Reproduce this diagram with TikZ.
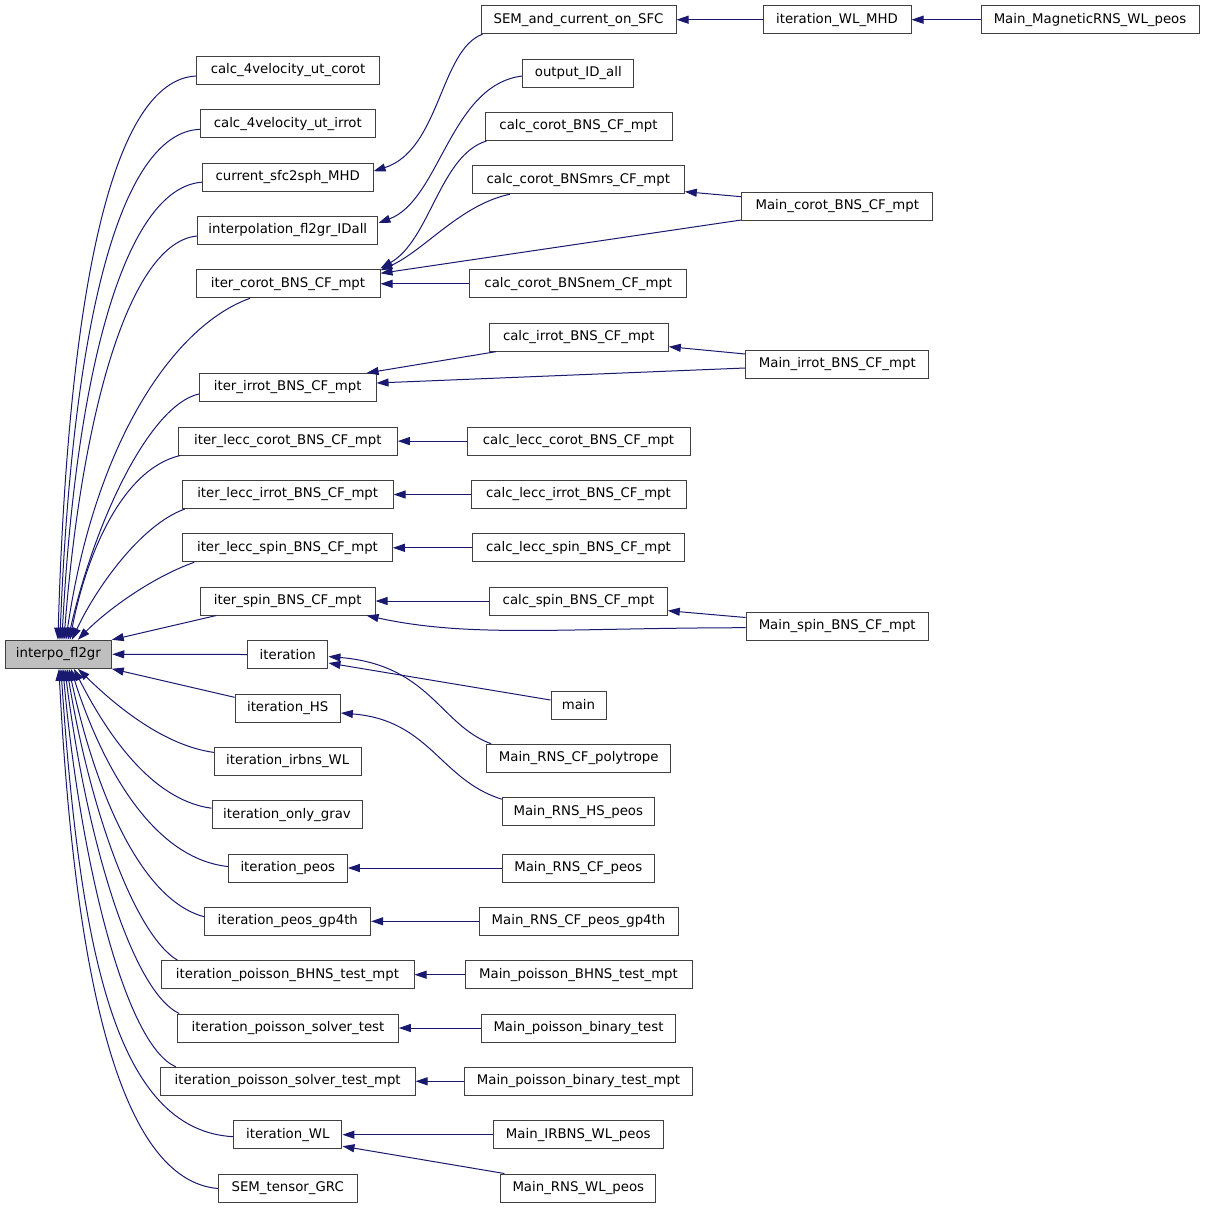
\documentclass[tikz,border=0pt]{standalone}
\usepackage{fontspec}
\setmainfont{DejaVu Sans}
\usetikzlibrary{arrows.meta}
\definecolor{edgeblue}{HTML}{191970}
\definecolor{boxborder}{HTML}{404040}
\definecolor{hilite}{HTML}{BFBFBF}
\begin{document}
\begin{tikzpicture}[x=1pt,y=-1pt,
  box/.style={draw=boxborder, line width=1pt, fill=white, inner sep=0pt,
    minimum height=28pt, font=\fontsize{13.3}{16}\selectfont},
  rootbox/.style={box, fill=hilite},
  edge/.style={draw=edgeblue, line width=1pt, arrows={Triangle[length=12pt,width=8pt]-}}]
\fill[white] (0,0) rectangle (1205,1208);
\useasboundingbox (0,0) rectangle (1205,1208);

% root
\node[rootbox, minimum width=106.7pt] (ifl) at (58.4,654.3) {interpo\_fl2gr};

% column 2
\node[box, minimum width=182.6pt] (c4c) at (288,70.5) {calc\_4velocity\_ut\_corot};
\node[box, minimum width=175pt] (c4i) at (287.8,123.8) {calc\_4velocity\_ut\_irrot};
\node[box, minimum width=170.7pt] (cur) at (287.7,177.2) {current\_sfc2sph\_MHD};
\node[box, minimum width=180.3pt] (ida) at (287.8,230.5) {interpolation\_fl2gr\_IDall};
\node[box, minimum width=184pt] (ico) at (288,283.8) {iter\_corot\_BNS\_CF\_mpt};
\node[box, minimum width=176.7pt] (iir) at (287.7,387.5) {iter\_irrot\_BNS\_CF\_mpt};
\node[box, minimum width=219pt] (ilc) at (287.8,441.1) {iter\_lecc\_corot\_BNS\_CF\_mpt};
\node[box, minimum width=210.7pt] (ili) at (287.7,494.5) {iter\_lecc\_irrot\_BNS\_CF\_mpt};
\node[box, minimum width=209.6pt] (ils) at (287.5,547.8) {iter\_lecc\_spin\_BNS\_CF\_mpt};
\node[box, minimum width=174.7pt] (isp) at (287.7,601) {iter\_spin\_BNS\_CF\_mpt};
\node[box, minimum width=80.3pt] (itr) at (287.8,654.5) {iteration};
\node[box, minimum width=105.3pt] (ihs) at (287.7,708) {iteration\_HS};
\node[box, minimum width=146.7pt] (irb) at (287.7,761.4) {iteration\_irbns\_WL};
\node[box, minimum width=150pt] (iog) at (287,814.7) {iteration\_only\_grav};
\node[box, minimum width=119pt] (ipe) at (287.8,868) {iteration\_peos};
\node[box, minimum width=165.7pt] (ipg) at (287.8,921.3) {iteration\_peos\_gp4th};
\node[box, minimum width=253pt] (ibh) at (287.5,974.7) {iteration\_poisson\_BHNS\_test\_mpt};
\node[box, minimum width=220.6pt] (ist) at (288,1028) {iteration\_poisson\_solver\_test};
\node[box, minimum width=254.7pt] (ism) at (287.7,1081.3) {iteration\_poisson\_solver\_test\_mpt};
\node[box, minimum width=108.3pt] (iwl) at (287.8,1134.7) {iteration\_WL};
\node[box, minimum width=138.7pt] (sem) at (287.7,1188) {SEM\_tensor\_GRC};

% column 3
\node[box, minimum width=195pt] (ssf) at (578.5,19.7) {SEM\_and\_current\_on\_SFC};
\node[box, minimum width=111.3pt] (oid) at (578.3,73.3) {output\_ID\_all};
\node[box, minimum width=187pt] (ccb) at (578.5,126.5) {calc\_corot\_BNS\_CF\_mpt};
\node[box, minimum width=212pt] (ccm) at (578.3,179.7) {calc\_corot\_BNSmrs\_CF\_mpt};
\node[box, minimum width=217.3pt] (ccn) at (578.3,283.8) {calc\_corot\_BNSnem\_CF\_mpt};
\node[box, minimum width=179pt] (cir) at (578.8,337.2) {calc\_irrot\_BNS\_CF\_mpt};
\node[box, minimum width=223pt] (clc) at (578.5,441.1) {calc\_lecc\_corot\_BNS\_CF\_mpt};
\node[box, minimum width=215pt] (cli) at (578.5,494.5) {calc\_lecc\_irrot\_BNS\_CF\_mpt};
\node[box, minimum width=212.4pt] (cls) at (578.5,547.8) {calc\_lecc\_spin\_BNS\_CF\_mpt};
\node[box, minimum width=177.6pt] (csp) at (578.5,601) {calc\_spin\_BNS\_CF\_mpt};
\node[box, minimum width=55pt] (mai) at (578.5,705) {main};
\node[box, minimum width=184pt] (mrp) at (578.7,758.3) {Main\_RNS\_CF\_polytrope};
\node[box, minimum width=152pt] (mrh) at (578.3,811.7) {Main\_RNS\_HS\_peos};
\node[box, minimum width=152pt] (mrc) at (578.3,868) {Main\_RNS\_CF\_peos};
\node[box, minimum width=199pt] (mrg) at (578.5,921.3) {Main\_RNS\_CF\_peos\_gp4th};
\node[box, minimum width=227pt] (mpb) at (578.5,974.7) {Main\_poisson\_BHNS\_test\_mpt};
\node[box, minimum width=193.6pt] (mbt) at (578.5,1028) {Main\_poisson\_binary\_test};
\node[box, minimum width=228.4pt] (mbm) at (578.5,1081.3) {Main\_poisson\_binary\_test\_mpt};
\node[box, minimum width=170pt] (mir) at (578.3,1134.7) {Main\_IRBNS\_WL\_peos};
\node[box, minimum width=154.7pt] (mrw) at (578.3,1188) {Main\_RNS\_WL\_peos};

% column 4
\node[box, minimum width=148pt] (iwm) at (837,19.7) {iteration\_WL\_MHD};
\node[box, minimum width=191.3pt] (mco) at (837.3,206.5) {Main\_corot\_BNS\_CF\_mpt};
\node[box, minimum width=183.3pt] (mia) at (837.3,364) {Main\_irrot\_BNS\_CF\_mpt};
\node[box, minimum width=182.3pt] (msp) at (837.2,626.5) {Main\_spin\_BNS\_CF\_mpt};

% column 5
\node[box, minimum width=218pt] (mmg) at (1090,19.7) {Main\_MagneticRNS\_WL\_peos};

% ---- edges into interpo_fl2gr (upper)
\draw[edge] ([xshift=-0.5pt]ifl.north) .. controls (68,300) and (110,80) .. ([yshift=-5.5pt]c4c.west);
\draw[edge] ([xshift=1.5pt]ifl.north) .. controls (72,330) and (118,133) .. ([yshift=-5.5pt]c4i.west);
\draw[edge] ([xshift=3.5pt]ifl.north) .. controls (76,370) and (125,188) .. ([yshift=-5pt]cur.west);
\draw[edge] ([xshift=5.5pt]ifl.north) .. controls (82,410) and (130,242) .. ([yshift=-5.5pt]ida.west);
\draw[edge] ([xshift=7.5pt]ifl.north) .. controls (95,440) and (175,325) .. ([xshift=-38pt]ico.south);
\draw[edge] ([xshift=9.5pt]ifl.north) .. controls (95,520) and (150,405) .. ([yshift=-6.5pt]iir.west);
\draw[edge] ([xshift=11.5pt]ifl.north) .. controls (85,560) and (120,470) .. ([xshift=2pt]ilc.south west);
\draw[edge] ([xshift=13.5pt]ifl.north) .. controls (95,590) and (140,525) .. ([xshift=3pt]ili.south west);
\draw[edge] ([xshift=19.5pt]ifl.north) .. controls (105,612) and (150,578) .. ([xshift=12pt]ils.south west);
\draw[edge] ([xshift=-0.5pt]ifl.north east) -- ([xshift=16.5pt]isp.south west);
\draw[edge] (ifl.east) -- (itr.west);
% ---- edges into interpo_fl2gr (lower)
\draw[edge] ([xshift=-0.5pt]ifl.south east) -- ([yshift=10.7pt]ihs.west);
\draw[edge] ([xshift=19.5pt]ifl.south) .. controls (110,700) and (160,745) .. ([yshift=9pt]irb.west);
\draw[edge] ([xshift=15.5pt]ifl.south) .. controls (105,730) and (150,800) .. ([yshift=6.5pt]iog.west);
\draw[edge] ([xshift=12.5pt]ifl.south) .. controls (100,760) and (150,858) .. ([yshift=1.5pt]ipe.west);
\draw[edge] ([xshift=10.5pt]ifl.south) .. controls (95,790) and (140,900) .. ([yshift=4.5pt]ipg.west);
\draw[edge] ([xshift=8.5pt]ifl.south) .. controls (90,810) and (135,935) .. ([xshift=17pt]ibh.north west);
\draw[edge] ([xshift=6.5pt]ifl.south) .. controls (85,830) and (130,990) .. ([xshift=2pt]ist.north west);
\draw[edge] ([xshift=4.5pt]ifl.south) .. controls (80,860) and (125,1045) .. ([xshift=16pt]ism.north west);
\draw[edge] ([xshift=2.5pt]ifl.south) .. controls (80,950) and (115,1130) .. ([yshift=-2pt]iwl.west);
\draw[edge] ([xshift=0.5pt]ifl.south) .. controls (75,980) and (120,1180) .. ([yshift=-0.5pt]sem.west);

% ---- column 3 -> column 2
\draw[edge] ([yshift=6pt]cur.east) .. controls (440,150) and (440,50) .. ([xshift=2pt]ssf.south west);
\draw[edge] ([yshift=7.5pt]ida.east) .. controls (440,200) and (450,85) .. ([yshift=-2.7pt]oid.west);
\draw[edge] ([yshift=1pt]ico.north east) .. controls (430,240) and (440,155) .. ([xshift=2pt]ccb.south west);
\draw[edge] ([yshift=-1pt]ico.north east) .. controls (425,250) and (460,205) .. ([xshift=38pt]ccm.south west);
\draw[edge] ([yshift=-4pt]ico.north east) -- ([yshift=1pt]mco.south west);
\draw[edge] (ico.east) -- (ccn.west);
\draw[edge] ([yshift=-12pt]ccm.east) -- ([yshift=9.8pt]mco.west);
\draw[edge] (ssf.east) -- (iwm.west);
\draw[edge] (iwm.east) -- (mmg.west);
\draw[edge] ([xshift=-10pt]iir.north east) -- ([xshift=7pt]cir.south west);
\draw[edge] ([yshift=4.5pt]iir.east) -- ([yshift=-4pt]mia.west);
\draw[edge] ([yshift=-9.5pt]cir.east) -- ([yshift=10pt]mia.west);
\draw[edge] (ilc.east) -- (clc.west);
\draw[edge] (ili.east) -- (cli.west);
\draw[edge] (ils.east) -- (cls.west);
\draw[edge] (isp.east) -- (csp.west);
\draw[edge] ([yshift=-9.7pt]csp.east) -- ([yshift=9pt]msp.west);
\draw[edge] ([xshift=-9pt]isp.south east) .. controls (470,638) and (560,628) .. ([yshift=-1.2pt]msp.west);
\draw[edge] ([yshift=-8.5pt]itr.east) -- ([yshift=5pt]mai.west);
\draw[edge] ([yshift=-2pt]itr.east) .. controls (430,665) and (440,725) .. ([xshift=5pt]mrp.north west);
\draw[edge] ([yshift=-5pt]ihs.east) .. controls (430,720) and (440,780) .. ([yshift=-2pt]mrh.north west);
\draw[edge] (ipe.east) -- (mrc.west);
\draw[edge] (ipg.east) -- (mrg.west);
\draw[edge] (ibh.east) -- (mpb.west);
\draw[edge] (ist.east) -- (mbt.west);
\draw[edge] (ism.east) -- (mbm.west);
\draw[edge] (iwl.east) -- (mir.west);
\draw[edge] ([yshift=-11.5pt]iwl.east) -- ([xshift=4pt]mrw.north west);
\end{tikzpicture}
\end{document}
